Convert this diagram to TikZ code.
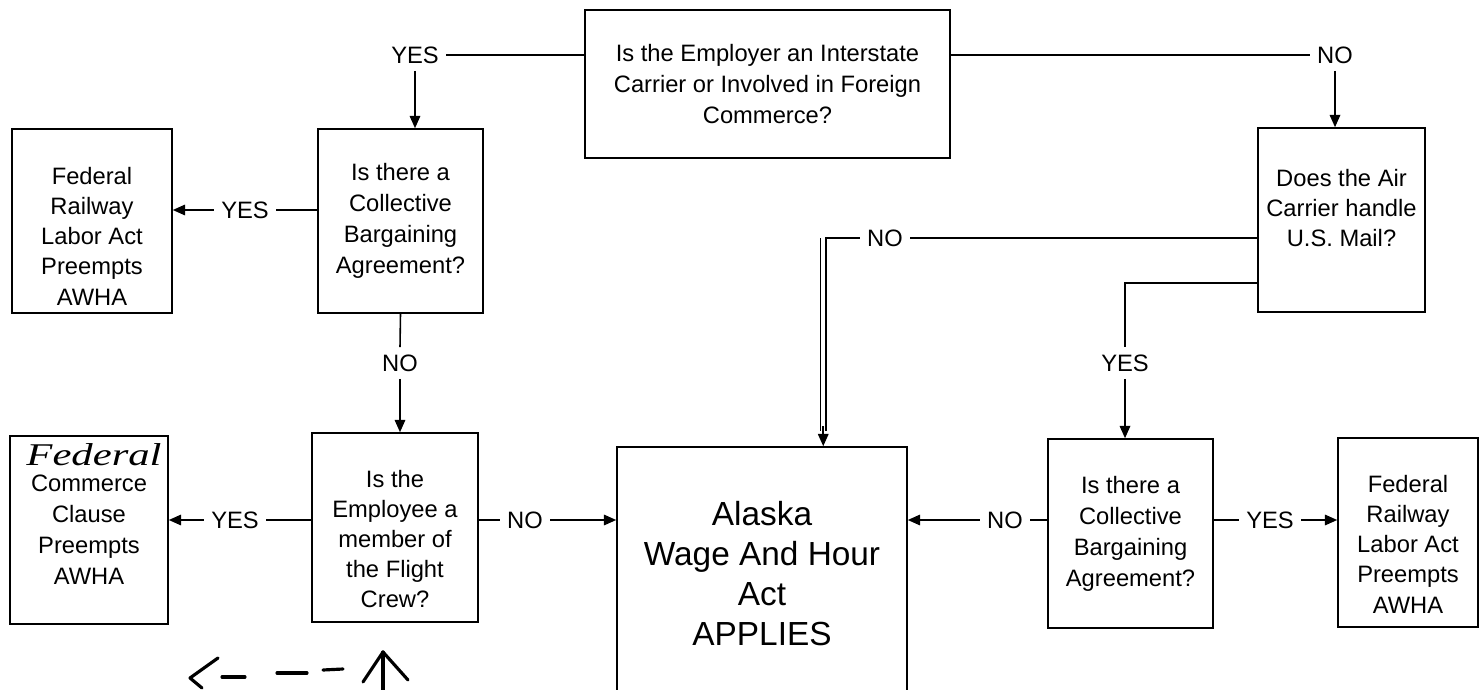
\documentclass[tikz,border=0pt]{standalone}
\usepackage{fontspec}
\setmainfont{Liberation Sans}
\newfontfamily\handfont{Liberation Serif}
\usetikzlibrary{arrows.meta, positioning, calc}

\begin{document}
\begin{tikzpicture}
  [
    Box/.style={rectangle, draw=black, line width=0.9pt, align=center, font=\fontsize{13.5}{17.6}\selectfont, inner sep=2pt},
    Txt/.style={align=center, font=\fontsize{13.5}{17.2}\selectfont, inner sep=1pt},
    Big/.style={rectangle, draw=black, line width=0.9pt, align=center, font=\fontsize{19}{22.7}\selectfont},
    Tag/.style={font=\fontsize{13.5}{16.5}\selectfont, inner sep=4pt},
    Link/.style={line width=0.9pt},
    Go/.style={line width=0.9pt, -{Triangle[length=7pt, width=6pt]}},
    Pen/.style={line width=1.8pt, line cap=round, line join=round}
  ]
  \useasboundingbox (0, 0) rectangle (29.62, -13.8);
  \clip (0, 0) rectangle (29.62, -13.8);

  % Nodes
  \node[Box, minimum width=7.3cm, minimum height=2.96cm] (emp) at(15.35, -1.68) {Is the Employer an Interstate\\Carrier or Involved in Foreign\\Commerce?};

  \node[Box, minimum width=3.3cm, minimum height=3.68cm] (cbaL) at(8.01, -4.42) {Is there a\\Collective\\Bargaining\\Agreement?};
  \node[Box, minimum width=3.2cm, minimum height=3.68cm] (frL) at(1.84, -4.42) {};
  \node[Txt] (frLtext) at(1.84, -4.72) {Federal\\Railway\\Labor Act\\Preempts\\AWHA};

  \node[Box, minimum width=3.32cm, minimum height=3.78cm] (crew) at(7.9, -10.55) {};
  \node[Txt] (crewtext) at(7.9, -10.78) {Is the\\Employee a\\member of\\the Flight\\Crew?};
  \node[Box, minimum width=3.16cm, minimum height=3.76cm] (fcc) at(1.78, -10.6) {Commerce\\Clause\\Preempts\\AWHA};
  \node[font=\handfont\itshape\fontsize{18}{20}\selectfont, xscale=1.35] (fed) at(1.88, -9.1) {Federal};

  \node[Big, minimum width=5.8cm, minimum height=5.06cm] (alaska) at(15.24, -11.47) {Alaska\\Wage And Hour\\Act\\APPLIES};

  \node[Box, minimum width=3.34cm, minimum height=3.68cm] (mail) at(26.83, -4.4) {};
  \node[Txt] (mailtext) at(26.83, -4.16) {Does the Air\\Carrier handle\\U.S. Mail?};
  \node[Box, minimum width=3.3cm, minimum height=3.78cm] (cbaR) at(22.61, -10.67) {Is there a\\Collective\\Bargaining\\Agreement?};
  \node[Box, minimum width=2.8cm, minimum height=3.78cm] (frR) at(28.16, -10.65) {};
  \node[Txt] (frRtext) at(28.16, -10.88) {Federal\\Railway\\Labor Act\\Preempts\\AWHA};

  % Labels
  \node[Tag] (yes1) at(8.3, -1.1) {YES};
  \node[Tag] (no1) at(26.7, -1.1) {NO};
  \node[Tag] (yes2) at(4.9, -4.2) {YES};
  \node[Tag] (no2) at(8.0, -7.26) {NO};
  \node[Tag] (yes3) at(4.7, -10.4) {YES};
  \node[Tag] (no3) at(10.5, -10.4) {NO};
  \node[Tag] (no4) at(17.7, -4.76) {NO};
  \node[Tag] (yes4) at(22.5, -7.26) {YES};
  \node[Tag] (no5) at(20.1, -10.4) {NO};
  \node[Tag] (yes5) at(25.4, -10.4) {YES};

  \coordinate (inA) at ($(alaska.north west)!0.71!(alaska.north east)$);
  \coordinate (turn) at (22.5, -5.66);

  % Connectors
  \draw[Link] (yes1.east) -- (yes1.east -| emp.west);
  \draw[Go] (yes1.south) -- (yes1.south |- cbaL.north);
  \draw[Link] (no1.west) -- (no1.west -| emp.east);
  \draw[Go] (no1.south) -- (no1.south |- mail.north);

  \draw[Link] (cbaL.west |- yes2) -- (yes2.east);
  \draw[Go] (yes2.west) -- (yes2.west -| frL.east);
  \draw[Link] (cbaL.south) -- (no2.north);
  \draw[Go] (no2.south) -- (no2.south |- crew.north);

  \draw[Link] (crew.west |- yes3) -- (yes3.east);
  \draw[Go] (yes3.west) -- (yes3.west -| fcc.east);
  \draw[Link] (crew.east |- no3) -- (no3.west);
  \draw[Go] (no3.east) -- (no3.east -| alaska.west);

  \draw[Link] (mail.west |- no4) -- (no4.east);
  \draw[Link] (no4.west) -- ([xshift=1.2pt]no4.west -| inA);
  \draw[Link, double, double distance=2.2pt] (no4.west -| inA) -- ($(inA)+(0,0.3)$);
  \draw[Go] ($(inA)+(0,0.4)$) -- (inA);

  \draw[Link] (mail.west |- turn) -- (turn) -- (yes4.north);
  \draw[Go] (yes4.south) -- (yes4.south |- cbaR.north);

  \draw[Link] (cbaR.west |- no5) -- (no5.east);
  \draw[Go] (no5.west) -- (no5.west -| alaska.east);
  \draw[Link] (cbaR.east |- yes5) -- (yes5.west);
  \draw[Go] (yes5.east) -- (yes5.east -| frR.west);

  % pen marks
  \draw[Pen] (4.36, -13.16) -- (3.8, -13.56) -- (4.04, -13.76);
  \draw[Pen] (4.44, -13.54) -- (4.9, -13.54);
  \draw[Pen] (5.54, -13.46) -- (6.14, -13.46);
  \draw[Pen] (6.46, -13.4) -- (6.86, -13.38);
  \draw[Pen] (7.66, -13.8) -- (7.66, -13.04);
  \draw[Pen] (7.26, -13.64) -- (7.66, -13.04) -- (8.16, -13.6);
\end{tikzpicture}
\end{document}
